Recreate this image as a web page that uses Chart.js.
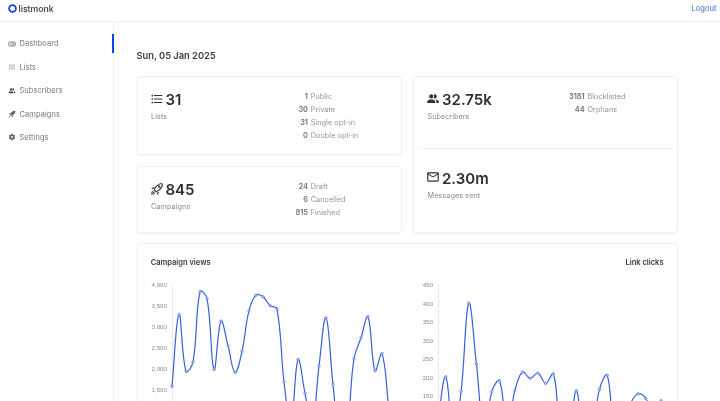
<!DOCTYPE html>
<html>
<head>
<meta charset="utf-8">
<title>listmonk</title>
<script src="https://cdn.jsdelivr.net/npm/chart.js@4"></script>
<style>
  html, body { margin: 0; width: 720px; height: 401px; overflow: hidden; background: #fff; font-family: Inter, sans-serif; color: #444; }
  .t { position: absolute; line-height: 1; white-space: nowrap; transform: translateY(-50%); filter: blur(.25px); }
  .bar { position: absolute; left: 0; top: 0; width: 720px; height: 21px; border-bottom: 1px solid #f3f3f3; box-shadow: 0 1px 2px rgba(0,0,0,.02); }
  .side { position: absolute; left: 0; top: 22px; width: 113px; height: 379px; border-right: 1px solid #f0f0f0; }
  .active { position: absolute; left: 111.5px; top: 34px; width: 2px; height: 19px; background: #0a45e6; }
  .nav { font-size: 7.5px; color: #777; left: 19.5px; letter-spacing: .05px; margin-top: .6px; }
  .card { position: absolute; box-sizing: border-box; background: #fff; border: 1px solid #f2f2f2; border-radius: 3px; box-shadow: 0 1px 2px rgba(0,0,0,.06); }
  .big { font-size: 15px; font-weight: 600; color: #2f2f2f; }
  .sub { font-size: 7.3px; color: #8a8a8a; left: 151px; letter-spacing: .05px; margin-top: .6px; }
  .num { font-size: 7.4px; font-weight: 600; color: #707070; text-align: right; width: 40px; margin-top: .6px; }
  .lab { font-size: 7.3px; color: #949494; letter-spacing: .05px; margin-top: .6px; }
  .head { font-size: 7.5px; font-weight: 600; color: #3a3a3a; }
  svg { position: absolute; filter: blur(.2px); }
  canvas { position: absolute; filter: blur(.2px); }
</style>
</head>
<body>
<div class="bar"></div>
<div class="side"></div>
<div class="active"></div>

<svg style="left:8px;top:4px" width="9" height="9" viewBox="0 0 18 18"><circle cx="9" cy="9" r="6.8" fill="none" stroke="#0a45e6" stroke-width="3.6"/></svg>
<div class="t" style="left:18.5px;top:8.7px;font-size:8.7px;font-weight:500;color:#333">listmonk</div>
<div class="t" style="left:691.5px;top:9px;font-size:7.6px;color:#4a6bdc">Logout</div>

<div id="nav"></div>

<div class="t" style="left:136.5px;top:55.8px;font-size:9.3px;font-weight:600;color:#3a3a3a">Sun, 05 Jan 2025</div>

<div class="card" style="left:137px;top:76px;width:265px;height:79px"></div>
<div class="card" style="left:137px;top:166px;width:265px;height:67px"></div>
<div class="card" style="left:413px;top:76px;width:265px;height:157px"></div>
<div style="position:absolute;left:418px;top:148px;width:255px;height:1px;background:#f0f0f0"></div>
<div class="card" style="left:137px;top:243px;width:541px;height:200px"></div>

<svg style="left:150px;top:92px" width="14" height="14" viewBox="0 0 24 24" fill="#333"><path d="M7,5H21V7H7V5M7,13V11H21V13H7M4,4.5A1.5,1.5 0 0,1 5.5,6A1.5,1.5 0 0,1 4,7.5A1.5,1.5 0 0,1 2.5,6A1.5,1.5 0 0,1 4,4.5M4,10.5A1.5,1.5 0 0,1 5.5,12A1.5,1.5 0 0,1 4,13.5A1.5,1.5 0 0,1 2.5,12A1.5,1.5 0 0,1 4,10.5M7,19V17H21V19H7M4,16.5A1.5,1.5 0 0,1 5.5,18A1.5,1.5 0 0,1 4,19.5A1.5,1.5 0 0,1 2.5,18A1.5,1.5 0 0,1 4,16.5Z"/></svg>
<svg style="left:150px;top:182px" width="14" height="14" viewBox="0 0 24 24" fill="#333"><path d="M13.13 22.19L11.5 18.36C13.07 17.78 14.54 17 15.9 16.09L13.13 22.19M5.64 12.5L1.81 10.87L7.91 8.1C7 9.46 6.22 10.93 5.64 12.5M19.22 4C19.5 4 19.75 4 19.96 4.05C20.13 5.44 19.94 8.3 16.66 11.58C14.96 13.29 12.93 14.6 10.65 15.47L8.5 13.37C9.42 11.06 10.73 9.03 12.42 7.34C15.18 4.58 17.64 4 19.22 4M19.22 2C17.24 2 14.24 2.69 11 5.93C8.81 8.12 7.5 10.53 6.65 12.64C6.37 13.39 6.56 14.21 7.11 14.77L9.24 16.89C9.62 17.27 10.13 17.5 10.66 17.5C10.89 17.5 11.13 17.44 11.36 17.35C13.5 16.53 15.88 15.19 18.07 13C23.73 7.34 21.61 2.39 21.61 2.39S20.7 2 19.22 2M14.54 9.46C13.76 8.68 13.76 7.41 14.54 6.63S16.59 5.85 17.37 6.63C18.14 7.41 18.15 8.68 17.37 9.46C16.59 10.24 15.32 10.24 14.54 9.46M6.24 22L9.88 18.36C9.54 18.27 9.21 18.12 8.91 17.91L4.83 22H6.24M2 22H3.41L8.18 17.24L6.76 15.83L2 20.59V22M2 19.17L6.09 15.09C5.88 14.79 5.73 14.47 5.64 14.12L2 17.76V19.17Z"/></svg>
<svg style="left:426px;top:92px" width="14" height="14" viewBox="0 0 24 24" fill="#333"><path d="M16 17V19H2V17S2 13 9 13 16 17 16 17M12.5 7.5A3.5 3.5 0 1 0 9 11A3.5 3.5 0 0 0 12.5 7.5M15.94 13A5.32 5.32 0 0 1 18 17V19H22V17S22 13.37 15.94 13M15 4A3.39 3.39 0 0 0 13.07 4.59A5 5 0 0 1 13.07 10.41A3.39 3.39 0 0 0 15 11A3.5 3.5 0 0 0 15 4Z"/></svg>
<svg style="left:426px;top:170px" width="14" height="14" viewBox="0 0 24 24" fill="#333"><path d="M22 6C22 4.9 21.1 4 20 4H4C2.9 4 2 4.9 2 6V18C2 19.1 2.9 20 4 20H20C21.1 20 22 19.1 22 18V6M20 6L12 11L4 6H20M20 18H4V8L12 13L20 8V18Z"/></svg>

<div class="t big" style="left:165.5px;top:99px">31</div>
<div class="t sub" style="top:116px">Lists</div>
<div class="t big" style="left:165.5px;top:189px">845</div>
<div class="t sub" style="top:206.5px">Campaigns</div>
<div class="t big" style="left:442px;top:99px">32.75k</div>
<div class="t sub" style="left:427.5px;top:116px">Subscribers</div>
<div class="t big" style="left:442px;top:177.5px">2.30m</div>
<div class="t sub" style="left:427.5px;top:195px">Messages sent</div>

<div id="stats"></div>

<div class="t head" style="left:150.7px;top:262.5px">Campaign views</div>
<div class="t head" style="left:625.5px;top:262.5px">Link clicks</div>

<canvas id="viewsChart" style="left:151px;top:277px"></canvas>
<canvas id="clicksChart" style="left:418px;top:277px"></canvas>

<script>
const navLabels = ['Dashboard', 'Lists', 'Subscribers', 'Campaigns', 'Settings'];
const navRows = [43.5, 67, 90.5, 114, 137];

const listCounts = ['1', '30', '31', '0'];
const listLabels = ['Public', 'Private', 'Single opt-in', 'Double opt-in'];
const campaignCounts = ['24', '6', '815'];
const campaignLabels = ['Draft', 'Cancelled', 'Finished'];
const subscriberCounts = ['3181', '44'];
const subscriberLabels = ['Blocklisted', 'Orphans'];

// values below 1,500 / 150 are past the bottom of the window, so those are guesses from the curve
const viewValues = [1583, 3310, 1945, 2170, 3855, 3695, 1990, 3150, 2560, 1920, 2425, 3400, 3775, 3735, 3525, 3440,
    1690, 700, 2225, 1415, 600, 2065, 3230, 1630, 300, 600, 2250, 2750, 3255, 1960, 2370, 1000];
const clickValues = [90, 204, 50, 164, 403, 238, 50, 164, 193, 60, 167, 217, 200, 214, 186, 212,
    60, 60, 166, 40, 50, 170, 208, 50, 70, 130, 158, 146, 100, 139];
const viewTicks = [0, 500, 1000, 1500, 2000, 2500, 3000, 3500, 4000];
const clickTicks = [0, 50, 100, 150, 200, 250, 300, 350, 400, 450];

const navIcons = [
    '<rect x="2" y="6" width="20" height="12" rx="2" fill="none" stroke="#666" stroke-width="2"/><path d="M9 6V18M15 6V18M15 12H22" stroke="#666" stroke-width="2"/>',
    '<path fill="#666" d="M7,5H21V7H7V5M7,13V11H21V13H7M4,4.5A1.5,1.5 0 0,1 5.5,6A1.5,1.5 0 0,1 4,7.5A1.5,1.5 0 0,1 2.5,6A1.5,1.5 0 0,1 4,4.5M4,10.5A1.5,1.5 0 0,1 5.5,12A1.5,1.5 0 0,1 4,13.5A1.5,1.5 0 0,1 2.5,12A1.5,1.5 0 0,1 4,10.5M7,19V17H21V19H7M4,16.5A1.5,1.5 0 0,1 5.5,18A1.5,1.5 0 0,1 4,19.5A1.5,1.5 0 0,1 2.5,18A1.5,1.5 0 0,1 4,16.5Z"/>',
    '<path fill="#444" d="M16 17V19H2V17S2 13 9 13 16 17 16 17M12.5 7.5A3.5 3.5 0 1 0 9 11A3.5 3.5 0 0 0 12.5 7.5M15.94 13A5.32 5.32 0 0 1 18 17V19H22V17S22 13.37 15.94 13M15 4A3.39 3.39 0 0 0 13.07 4.59A5 5 0 0 1 13.07 10.41A3.39 3.39 0 0 0 15 11A3.5 3.5 0 0 0 15 4Z"/>',
    '<path fill="#666" d="M13.13 22.19L11.5 18.36C13.07 17.78 14.54 17 15.9 16.09L13.13 22.19M5.64 12.5L1.81 10.87L7.91 8.1C7 9.46 6.22 10.93 5.64 12.5M19.22 2C17.24 2 14.24 2.69 11 5.93C8.81 8.12 7.5 10.53 6.65 12.64C6.37 13.39 6.56 14.21 7.11 14.77L9.24 16.89C9.62 17.27 10.13 17.5 10.66 17.5C10.89 17.5 11.13 17.44 11.36 17.35C13.5 16.53 15.88 15.19 18.07 13C23.73 7.34 21.61 2.39 21.61 2.39S20.7 2 19.22 2M2 22H3.41L8.18 17.24L6.76 15.83L2 20.59V22Z"/>',
    '<path fill="#666" fill-rule="evenodd" d="M12,9A3,3 0 0,1 15,12A3,3 0 0,1 12,15A3,3 0 0,1 9,12A3,3 0 0,1 12,9M10,22C9.75,22 9.54,21.82 9.5,21.58L9.13,18.93C8.5,18.68 7.96,18.34 7.44,17.94L4.95,18.95C4.73,19.03 4.46,18.95 4.34,18.73L2.34,15.27C2.21,15.05 2.27,14.78 2.46,14.63L4.57,12.97L4.5,12L4.57,11L2.46,9.37C2.27,9.22 2.21,8.95 2.34,8.73L4.34,5.27C4.46,5.05 4.73,4.96 4.95,5.05L7.44,6.05C7.96,5.66 8.5,5.32 9.13,5.07L9.5,2.42C9.54,2.18 9.75,2 10,2H14C14.25,2 14.46,2.18 14.5,2.42L14.87,5.07C15.5,5.32 16.04,5.66 16.56,6.05L19.05,5.05C19.27,4.96 19.54,5.05 19.66,5.27L21.66,8.73C21.79,8.95 21.73,9.22 21.54,9.37L19.43,11L19.5,12L19.43,13L21.54,14.63C21.73,14.78 21.79,15.05 21.66,15.27L19.66,18.73C19.54,18.95 19.27,19.04 19.05,18.95L16.56,17.95C16.04,18.34 15.5,18.68 14.87,18.93L14.5,21.58C14.46,21.82 14.25,22 14,22H10Z"/>'
];

function addText(parent, cls, text, left, top) {
    const el = document.createElement('div');
    el.className = 't ' + cls;
    el.textContent = text;
    el.style.left = left + 'px';
    el.style.top = top + 'px';
    parent.appendChild(el);
}

const nav = document.getElementById('nav');
navLabels.forEach((label, i) => {
    addText(nav, 'nav', label, 19.5, navRows[i]);
    const icon = document.createElementNS('http://www.w3.org/2000/svg', 'svg');
    icon.setAttribute('viewBox', '0 0 24 24');
    icon.setAttribute('width', '8');
    icon.setAttribute('height', '8');
    icon.style.left = '7.5px';
    icon.style.top = (navRows[i] - 4) + 'px';
    icon.innerHTML = navIcons[i];
    nav.appendChild(icon);
});

function addStats(counts, labels, right, firstRow) {
    const stats = document.getElementById('stats');
    counts.forEach((count, i) => {
        addText(stats, 'num', count, right - 40, firstRow + i * 13);
        addText(stats, 'lab', labels[i], right + 2.7, firstRow + i * 13);
    });
}
addStats(listCounts, listLabels, 308, 96);
addStats(campaignCounts, campaignLabels, 308, 186);
addStats(subscriberCounts, subscriberLabels, 584.7, 96);

function createLineChart(canvasId, values, ticks, width, axisWidth) {
    const canvas = document.getElementById(canvasId);
    canvas.style.width = width + 'px';
    canvas.style.height = '184px';
    return new Chart(canvas, {
        type: 'line',
        data: {
            labels: values.map((v, i) => String(i + 1)),
            datasets: [{
                data: values,
                borderColor: '#3560d8',
                borderWidth: 1.2,
                tension: 0.4,
                pointRadius: 1.3,
                pointBorderWidth: 0.6,
                pointBackgroundColor: '#a9bbee',
                pointBorderColor: '#5f80e0',
                fill: false
            }]
        },
        options: {
            responsive: false,
            animation: false,
            layout: { autoPadding: false, padding: { right: 2 } },
            plugins: { legend: { display: false }, tooltip: { enabled: false } },
            scales: {
                x: { display: false, offset: false },
                y: {
                    min: ticks[0],
                    max: ticks[ticks.length - 1],
                    afterBuildTicks: axis => { axis.ticks = ticks.map(value => ({ value })); },
                    afterFit: axis => { axis.width = axisWidth; },
                    grid: { drawOnChartArea: false, drawTicks: false },
                    border: { color: '#e9e9e9', width: 1 },
                    ticks: {
                        padding: 5,
                        color: '#8c8c8c',
                        font: { size: 6.2, family: 'Liberation Sans, Arial, sans-serif' },
                        callback: value => value.toLocaleString('en-US')
                    }
                }
            }
        }
    });
}

createLineChart('viewsChart', viewValues, viewTicks, 240, 21);
createLineChart('clicksChart', clickValues, clickTicks, 245, 20);
</script>
</body>
</html>
